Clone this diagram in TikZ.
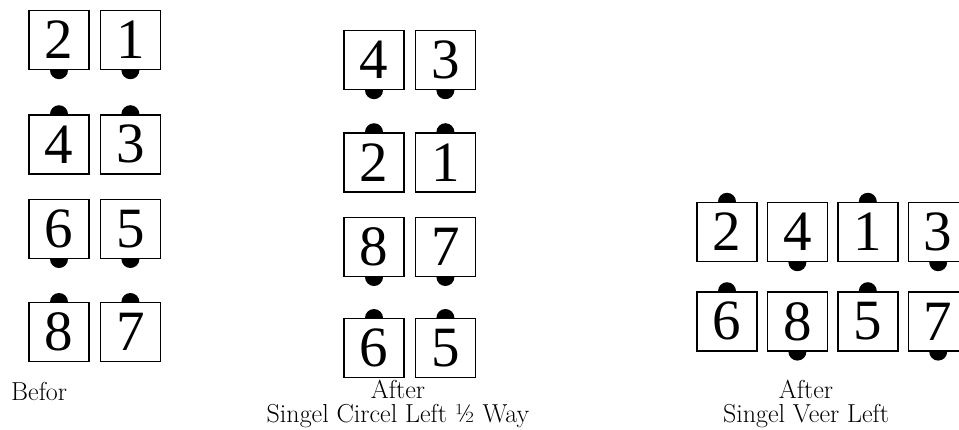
\documentclass[tikz,border=0pt]{standalone}
\usepackage{fontspec}
\newfontfamily\digitfont{Liberation Serif}
\usepackage{tikz}
\usetikzlibrary{
	positioning,
	backgrounds
}

\begin{document}
\begin{tikzpicture}[
    x=1pt, y=-1pt,
    dancer/.style={rectangle, draw, line width=1.4pt, fill=white, minimum width=60pt, minimum height=59pt, inner sep=0pt, font=\digitfont\fontsize{57}{57}\selectfont},
    caption/.style={align=center, font=\fontsize{26}{24}\selectfont, inner sep=0pt},
    dot/.style={fill=black}
]
\useasboundingbox (0,0) rectangle (959,429);

% Before
\node[dancer] (l2) at (59,40) {2};
\node[dancer, right=10pt of l2] (l1) {1};
\node[dancer, below=44pt of l2] (l4) {4};
\node[dancer, right=10pt of l4] (l3) {3};
\node[dancer, below=24pt of l4] (l6) {6};
\node[dancer, right=10pt of l6] (l5) {5};
\node[dancer, below=43pt of l6] (l8) {8};
\node[dancer, right=10pt of l8] (l7) {7};

% After circle left
\node[dancer] (m4) at (374,60) {4};
\node[dancer, right=10pt of m4] (m3) {3};
\node[dancer, below=42pt of m4] (m2) {2};
\node[dancer, right=10pt of m2] (m1) {1};
\node[dancer, below=24pt of m2] (m8) {8};
\node[dancer, right=10pt of m8] (m7) {7};
\node[dancer, below=41pt of m8] (m6) {6};
\node[dancer, right=10pt of m6] (m5) {5};

% After veer left
\node[dancer] (r2) at (727,232) {2};
\node[dancer, right=9pt of r2] (r4) {4};
\node[dancer, right=9pt of r4] (r1) {1};
\node[dancer, right=9pt of r1] (r3) {3};
\node[dancer, below=29pt of r2] (r6) {6};
\node[dancer, right=9pt of r6] (r8) {8};
\node[dancer, right=9pt of r8] (r5) {5};
\node[dancer, right=9pt of r5] (r7) {7};

% Dots
\begin{scope}[on background layer]
\foreach \n in {l2,l1,l6,l5,m4,m3,m8,m7,r4,r3,r8,r7}
    \fill[dot] (\n.south) circle (9pt);
\foreach \n in {l4,l3,l8,l7,m2,m1,m6,m5,r2,r1,r6,r5}
    \fill[dot] (\n.north) circle (9pt);
\end{scope}

% Labels
\node[caption, anchor=base west] (before) at (11,400) {Befor};
\node[caption, anchor=base] (circle) at (398,422) {After\\Singel Circel Left ½ Way};
\node[caption, anchor=base] (veer) at (806,422) {After\\Singel Veer Left};

\end{tikzpicture}
\end{document}
